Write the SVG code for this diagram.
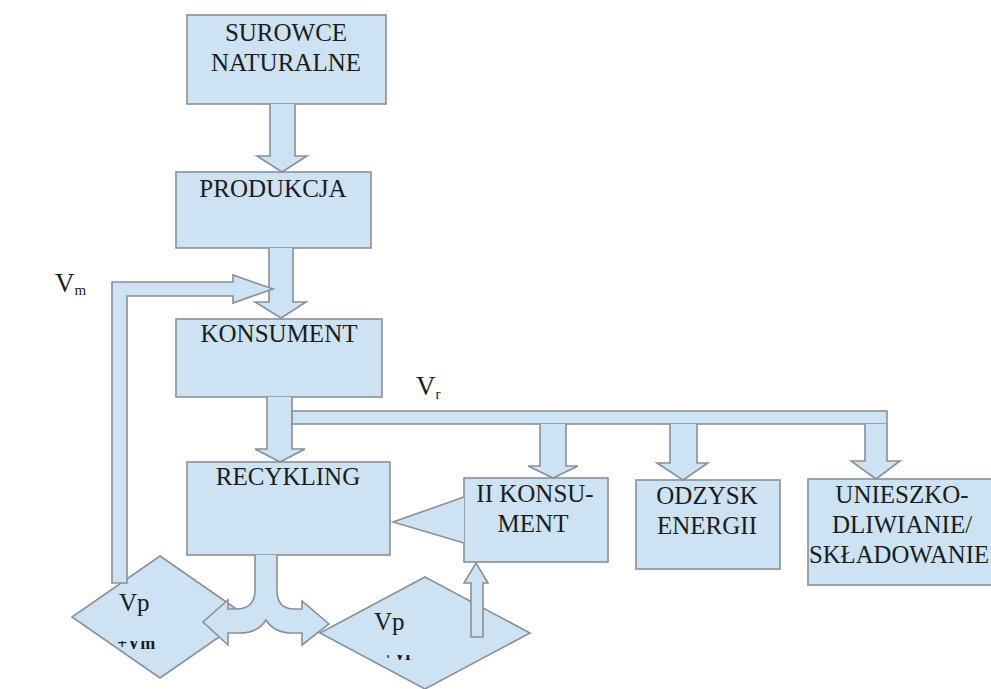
<svg xmlns="http://www.w3.org/2000/svg" width="991" height="689" viewBox="0 0 991 689">
  <style>
    .box { fill: #cde3f3; stroke: #8b9097; stroke-width: 1.6; }
    .flow { fill: #cde3f3; stroke: #8b9097; stroke-width: 1.6; stroke-linejoin: miter; }
    .lbl { font-family: "Liberation Serif", "Times New Roman", serif; font-size: 25px; fill: #1c1c1c; }
    .mid { text-anchor: middle; }
    .sym { font-family: "Liberation Serif", "Times New Roman", serif; fill: #1c1c1c; }
  </style>
  <defs>
    <clipPath id="clipLow1"><rect x="100" y="641" width="90" height="20"/></clipPath>
    <clipPath id="clipLow2"><rect x="370" y="655" width="70" height="20"/></clipPath>
  </defs>
  <rect width="991" height="689" fill="#ffffff"/>

  <!-- nodes -->
  <g id="surowce">
    <rect class="box" x="187" y="15" width="199" height="89"/>
    <text class="lbl mid" x="286" y="41">SUROWCE</text>
    <text class="lbl mid" x="286" y="71">NATURALNE</text>
  </g>
  <g id="produkcja">
    <rect class="box" x="176" y="172" width="195" height="76"/>
    <text class="lbl mid" x="273" y="197">PRODUKCJA</text>
  </g>
  <g id="konsument">
    <rect class="box" x="176" y="319" width="206" height="78"/>
    <text class="lbl mid" x="279" y="342">KONSUMENT</text>
  </g>
  <g id="recykling">
    <rect class="box" x="187" y="462" width="203" height="93"/>
    <text class="lbl mid" x="288" y="485">RECYKLING</text>
  </g>
  <g id="ii-konsument">
    <rect class="box" x="464" y="478" width="144" height="84"/>
    <text class="lbl mid" x="535" y="502">II KONSU-</text>
    <text class="lbl mid" x="533" y="532">MENT</text>
  </g>
  <g id="odzysk">
    <rect class="box" x="636" y="480" width="144" height="89"/>
    <text class="lbl mid" x="707" y="504">ODZYSK</text>
    <text class="lbl mid" x="707" y="534">ENERGII</text>
  </g>
  <g id="unieszkodliwianie">
    <rect class="box" x="808" y="479" width="200" height="106"/>
    <text class="lbl mid" x="902" y="503">UNIESZKO-</text>
    <text class="lbl mid" x="902" y="533">DLIWIANIE/</text>
    <text class="lbl" x="809" y="563" textLength="180" lengthAdjust="spacingAndGlyphs">SKŁADOWANIE</text>
  </g>
  <g id="vp-left">
    <polygon class="box" points="160,556 248,617 160,678 72,617"/>
    <text class="lbl" x="119" y="611">Vp</text>
    <text class="sym" x="117" y="649" font-size="18" font-weight="bold" clip-path="url(#clipLow1)">+Vm</text>
  </g>
  <g id="vp-right">
    <polygon class="box" points="425,577 530,633 425,689 320,633"/>
    <text class="lbl" x="374" y="630">Vp</text>
    <text class="sym" x="383" y="660" font-size="18" font-weight="bold" clip-path="url(#clipLow2)">+Vr</text>
  </g>

  <!-- connectors -->
  <g id="connectors">
    <path class="flow" d="M270,104 L270,156 L257,156 L282,172 L307,156 L295,156 L295,104"/>
    <path class="flow" d="M269,248 L269,302 L255,302 L281,318 L306,302 L293,302 L293,248"/>
    <path class="flow" d="M112,583 L112,282 L233,282 L233,275 L273,289 L233,303 L233,296 L127,296 L127,583 Z"/>
    <path class="flow" d="M267,397 L267,449 L255,449 L280,462 L305,449 L292,449 L292,397"/>
    <rect class="flow" x="292" y="411" width="595" height="13"/>
    <path class="flow" d="M540,424 L540,466 L528,466 L553,478 L578,466 L566,466 L566,424"/>
    <path class="flow" d="M670,424 L670,463 L657,463 L683,480 L708,463 L697,463 L697,424"/>
    <path class="flow" d="M865,424 L865,461 L851,461 L876,479 L900,461 L887,461 L887,424"/>
    <path class="flow" d="M464,497 L393,522 L464,543"/>
    <path class="flow" d="M255,555 L255,590 Q255,609 236,609 L228,609 L228,600 L203,622 L228,645 L228,633 L240,633 Q258,633 266,620 Q274,633 292,633 L302,633 L302,645 L329,624 L302,601 L302,609 L294,609 Q277,609 277,590 L277,555"/>
    <path class="flow" d="M471,637 L471,583 L464,583 L476,563 L488,583 L483,583 L483,637 Z"/>
  </g>

  <!-- flow labels -->
  <g id="flow-labels">
    <text class="sym" x="55" y="292" font-size="27">V<tspan font-size="15" dy="3">m</tspan></text>
    <text class="sym" x="416" y="395" font-size="27">V<tspan font-size="15" dy="4">r</tspan></text>
  </g>
</svg>
